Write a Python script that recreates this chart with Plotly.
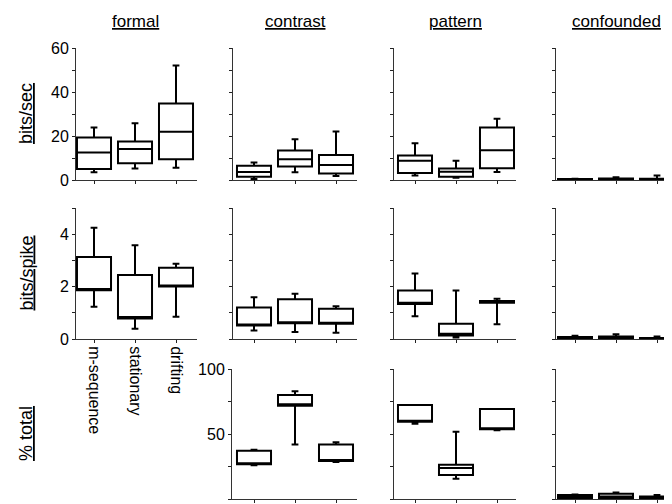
import plotly.graph_objects as go

categories = ["m-sequence", "stationary", "drifting"]
columns = ["formal", "contrast", "pattern", "confounded"]
row_titles = ["bits/sec", "bits/spike", "% total"]

# each panel: (lowerfence, q1, median, q3, upperfence), one value per category
sec_formal = ([3.5, 5.2, 5.6], [5.0, 7.6, 9.4], [12.5, 14.1, 21.9], [19.3, 17.5, 34.8], [23.9, 25.8, 52.0])
sec_contrast = ([0.5, 3.5, 1.8], [1.5, 6.1, 2.9], [3.6, 9.4, 6.8], [6.5, 13.4, 11.4], [7.9, 18.5, 22.0])
sec_pattern = ([2.1, 1.0, 3.6], [3.2, 1.5, 5.3], [8.7, 3.8, 13.5], [11.1, 5.2, 23.9], [16.7, 8.8, 27.8])
sec_confounded = ([0.0, 0.1, 0.1], [0.1, 0.2, 0.2], [0.2, 0.4, 0.4], [0.4, 0.7, 0.6], [0.6, 1.3, 2.0])

spike_formal = ([1.23, 0.39, 0.85], [1.86, 0.78, 2.0], [1.91, 0.84, 2.03], [3.13, 2.44, 2.72], [4.25, 3.58, 2.87])
spike_contrast = ([0.32, 0.27, 0.24], [0.52, 0.6, 0.58], [0.55, 0.63, 0.6], [1.2, 1.52, 1.15], [1.59, 1.73, 1.25])
spike_pattern = ([0.87, 0.06, 0.56], [1.34, 0.13, 1.38], [1.38, 0.2, 1.42], [1.85, 0.58, 1.45], [2.5, 1.85, 1.54])
spike_confounded = ([0.0, 0.0, 0.0], [0.02, 0.02, 0.0], [0.05, 0.05, 0.02], [0.08, 0.1, 0.04], [0.12, 0.18, 0.1])

total_contrast = ([25.9, 42.0, 28.5], [26.7, 71.8, 29.2], [27.0, 72.8, 29.6], [37.2, 80.0, 42.0], [37.9, 82.8, 43.6])
total_pattern = ([57.9, 15.6, 52.8], [59.5, 18.5, 53.6], [60.0, 23.8, 54.0], [72.3, 26.4, 69.2], [72.3, 51.8, 69.2])
total_confounded = ([0.3, 0.3, 0.3], [0.5, 0.5, 0.5], [1.5, 2.0, 1.0], [3.0, 4.0, 2.0], [3.5, 5.0, 3.0])

sec_ticks = [0, 10, 20, 30, 40, 50, 60]
sec_labels = ["0", "", "20", "", "40", "", "60"]
spike_ticks = [0, 1, 2, 3, 4, 5]
spike_labels = ["0", "", "2", "", "4", ""]
total_ticks = [0, 25, 50, 75, 100]
total_labels = ["0", "", "50", "", "100"]

OFF = 8  # page body margin
W, H = 672 - OFF, 504 - OFF
col_px = [(76, 197), (233, 357), (394, 516), (556, 672)]
col_first = [94, 254, 415, 575]
row_px = [(48, 180), (208, 339), (369, 499)]
step = 41.0


def px(v):
    return (v - OFF) / W


def py(v):
    return 1 - (v - OFF) / H


panels = [
    (0, 0, sec_formal, 60, sec_ticks, sec_labels, True),
    (0, 1, sec_contrast, 60, sec_ticks, sec_labels, False),
    (0, 2, sec_pattern, 60, sec_ticks, sec_labels, False),
    (0, 3, sec_confounded, 60, sec_ticks, sec_labels, False),
    (1, 0, spike_formal, 5, spike_ticks, spike_labels, True),
    (1, 1, spike_contrast, 5, spike_ticks, spike_labels, False),
    (1, 2, spike_pattern, 5, spike_ticks, spike_labels, False),
    (1, 3, spike_confounded, 5, spike_ticks, spike_labels, False),
    (2, 1, total_contrast, 100, total_ticks, total_labels, True),
    (2, 2, total_pattern, 100, total_ticks, total_labels, False),
    (2, 3, total_confounded, 100, total_ticks, total_labels, False),
]

FONT = "Liberation Sans, Arial, sans-serif"
fig = go.Figure()
layout = {}
for i, (r, c, stats, ymax, tv, tt, showlab) in enumerate(panels):
    n = i + 1
    xs = "" if n == 1 else str(n)
    lo, q1, med, q3, hi = stats
    fig.add_trace(go.Box(
        x=[0, 1, 2], lowerfence=lo, q1=q1, median=med, q3=q3, upperfence=hi,
        width=0.83, whiskerwidth=0.2, fillcolor="white",
        line=dict(color="black", width=2), boxpoints=False,
        xaxis="x" + xs, yaxis="y" + xs, showlegend=False, hoverinfo="skip",
    ))
    x0, x1 = col_px[c]
    if r == 2 and c == 1:
        x0 = 232
    first = col_first[c]
    xr = [-(first - x0) / step, (x1 - first) / step]
    y0, y1 = row_px[r]
    is_cat = (r == 1 and c == 0)
    layout["xaxis" + xs] = dict(
        domain=[px(x0), min(1.0, px(x1))], anchor="y" + xs, range=xr, automargin=False,
        tickvals=[0, 1, 2], ticktext=categories if is_cat else ["", "", ""],
        tickangle=90, ticks="outside", ticklen=3, tickcolor="#222",
        showline=True, linecolor="#333", linewidth=1,
        showgrid=False, zeroline=False,
        tickfont=dict(family=FONT, size=16, color="black"),
    )
    layout["yaxis" + xs] = dict(
        domain=[py(y1), py(y0)], anchor="x" + xs, range=[0, ymax], automargin=False,
        tickvals=tv, ticktext=tt if showlab else [""] * len(tv),
        ticks="outside", ticklen=3, tickcolor="#222",
        showline=True, linecolor="#333", linewidth=1,
        showgrid=False, zeroline=False,
        tickfont=dict(family=FONT, size=16, color="black"),
    )

annotations = []
for c, name in enumerate(columns):
    annotations.append(dict(
        text="<u>" + name + "</u>", x=px(col_first[c] + step), xref="paper", y=py(22),
        yref="paper", showarrow=False, xanchor="center", yanchor="middle",
        font=dict(family=FONT, size=17, color="black"),
    ))
for r, name in enumerate(row_titles):
    y0, y1 = row_px[r]
    annotations.append(dict(
        text="<u>" + name + "</u>", x=px(26), xref="paper", y=py((y0 + y1) / 2),
        yref="paper", showarrow=False, xanchor="center", yanchor="middle",
        textangle=-90, font=dict(family=FONT, size=18, color="black"),
    ))

fig.update_layout(
    width=W, height=H, autosize=False,
    margin=dict(l=0, r=0, t=0, b=0),
    paper_bgcolor="white", plot_bgcolor="white",
    annotations=annotations, **layout,
)
fig.write_html("out.html")
